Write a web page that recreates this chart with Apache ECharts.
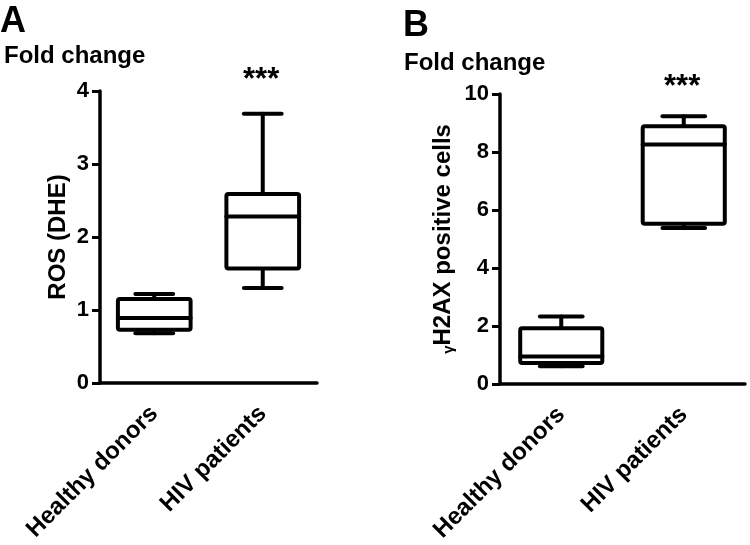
<!DOCTYPE html>
<html>
<head>
<meta charset="utf-8">
<script src="https://cdn.jsdelivr.net/npm/echarts@6/dist/echarts.min.js"></script>
<style>
  html, body { margin: 0; padding: 0; background: #fff; }
  #main { width: 750px; height: 545px; }
</style>
</head>
<body>
<div id="main"></div>
<script>
// groups on the x axis
const categories = ['Healthy donors', 'HIV patients'];

// box stats: [min, q1, median, q3, max]
const rosHealthy = [0.68, 0.73, 0.89, 1.15, 1.22];
const rosHiv = [1.30, 1.57, 2.28, 2.59, 3.69];
const h2axHealthy = [0.61, 0.72, 0.94, 1.92, 2.32];
const h2axHiv = [5.38, 5.52, 8.26, 8.89, 9.23];

const font = "'Liberation Sans', Arial, sans-serif";

function toRows(groups) {
  return groups.map(function (g, i) {
    return [i].concat(g);
  });
}

// box + whiskers, caps are about half the box width
function renderBox(params, api) {
  var cat = api.value(0);
  var lo = api.coord([cat, api.value(1)]);
  var q1 = api.coord([cat, api.value(2)]);
  var med = api.coord([cat, api.value(3)]);
  var q3 = api.coord([cat, api.value(4)]);
  var hi = api.coord([cat, api.value(5)]);
  var band = api.size([1, 0])[0];
  var bw = band * 0.67;
  var cw = bw * 0.52;
  var x = lo[0];
  var st = { stroke: '#000', lineWidth: 4, lineCap: 'round', lineJoin: 'round', fill: null };
  return {
    type: 'group',
    children: [
      { type: 'line', shape: { x1: x, y1: hi[1], x2: x, y2: q3[1] }, style: st },
      { type: 'line', shape: { x1: x, y1: lo[1], x2: x, y2: q1[1] }, style: st },
      { type: 'line', shape: { x1: x - cw / 2, y1: hi[1], x2: x + cw / 2, y2: hi[1] }, style: st },
      { type: 'line', shape: { x1: x - cw / 2, y1: lo[1], x2: x + cw / 2, y2: lo[1] }, style: st },
      {
        type: 'rect',
        shape: { x: x - bw / 2, y: q3[1], width: bw, height: q1[1] - q3[1], r: 2 },
        style: { stroke: '#000', lineWidth: 4, lineJoin: 'round', fill: '#fff' }
      },
      { type: 'line', shape: { x1: x - bw / 2, y1: med[1], x2: x + bw / 2, y2: med[1] }, style: st }
    ]
  };
}

function xAxisOf(idx) {
  return {
    type: 'category',
    gridIndex: idx,
    data: categories,
    boundaryGap: true,
    axisLine: { lineStyle: { color: '#000', width: 3.5 } },
    axisTick: { alignWithLabel: true, length: 9, lineStyle: { color: '#000', width: 3 } },
    axisLabel: {
      rotate: 45, margin: 27, color: '#000',
      fontFamily: font, fontWeight: 'bold', fontSize: 24
    }
  };
}

function yAxisOf(idx, max, step, name, gap, rich) {
  return {
    type: 'value',
    gridIndex: idx,
    min: 0, max: max, interval: step,
    name: name,
    nameLocation: 'middle',
    nameRotate: 90,
    nameGap: gap,
    nameTextStyle: {
      color: '#000', fontFamily: font, fontWeight: 'bold', fontSize: 24,
      rich: rich
    },
    splitLine: { show: false },
    axisLine: { show: true, lineStyle: { color: '#000', width: 3.5 } },
    axisTick: { show: true, length: 8, lineStyle: { color: '#000', width: 3 } },
    axisLabel: {
      margin: 11, color: '#000',
      fontFamily: font, fontWeight: 'bold', fontSize: 22
    }
  };
}

function label(text, left, top, size) {
  return {
    type: 'text', left: left, top: top,
    style: { text: text, fill: '#000', font: 'bold ' + size + 'px ' + font }
  };
}

var myChart = echarts.init(document.getElementById('main'));
myChart.setOption({
  animation: false,
  grid: [
    { left: 100, top: 91, width: 217, height: 292 },
    { left: 500, top: 94, width: 245, height: 292 }
  ],
  xAxis: [xAxisOf(0), xAxisOf(1)],
  yAxis: [
    yAxisOf(0, 4, 1, 'ROS (DHE)', 30),
    yAxisOf(1, 10, 2, '{g|γ}H2AX positive cells', 44, {
      g: { fontSize: 15, fontFamily: font, color: '#000', padding: [11, 0, 0, 0] }
    })
  ],
  graphic: [
    label('A', 0, 4, 36),
    label('Fold change', 4, 44, 24),
    label('B', 403, 8, 36),
    label('Fold change', 404, 51, 24),
    label('***', 243, 65, 31),
    label('***', 664, 72, 31)
  ],
  series: [
    {
      type: 'custom', xAxisIndex: 0, yAxisIndex: 0,
      renderItem: renderBox,
      encode: { x: 0, y: [1, 2, 3, 4, 5] },
      data: toRows([rosHealthy, rosHiv])
    },
    {
      type: 'custom', xAxisIndex: 1, yAxisIndex: 1,
      renderItem: renderBox,
      encode: { x: 0, y: [1, 2, 3, 4, 5] },
      data: toRows([h2axHealthy, h2axHiv])
    }
  ]
});
</script>
</body>
</html>
